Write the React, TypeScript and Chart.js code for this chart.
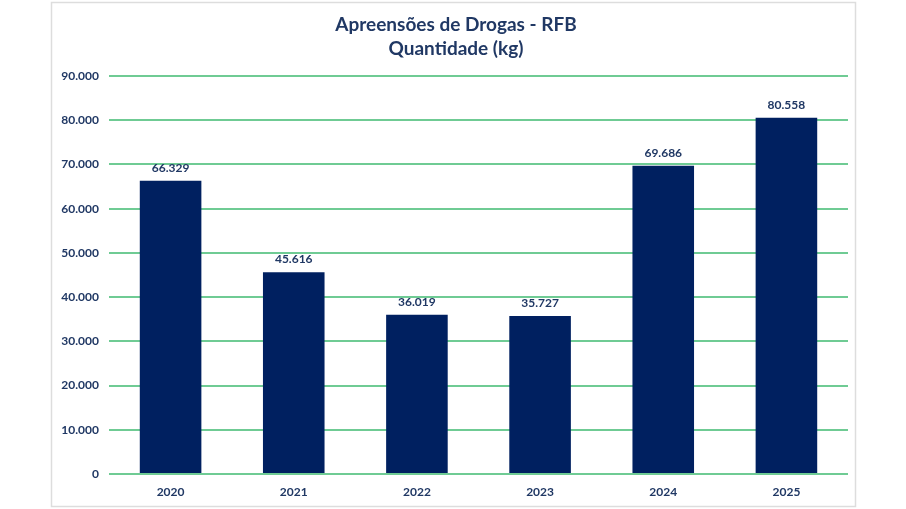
import React, { useEffect, useRef } from "react";
import { Chart, registerables } from "chart.js";

Chart.register(...registerables);

const categories = ["2020", "2021", "2022", "2023", "2024", "2025"];
const quantities = [66329, 45616, 36019, 35727, 69686, 80558];
const titleLines = ["Apreensões de Drogas - RFB", "Quantidade (kg)"];
const yMax = 90000;
const yStep = 10000;

const NAVY = "#002060";
const TEXT = "#203864";
const GRID = "#6FCB94";
const FONT = "Lato, 'Open Sans', sans-serif";

function fmt(v: number): string {
  const s = Math.round(v).toString();
  return s.replace(/\B(?=(\d{3})+(?!\d))/g, ".");
}

const framePlugin = {
  id: "frameAndTitle",
  beforeDraw(chart: any) {
    const ctx = chart.ctx;
    ctx.save();
    ctx.fillStyle = "#ffffff";
    ctx.fillRect(0, 0, chart.width, chart.height);
    ctx.strokeStyle = "#DDDDDD";
    ctx.lineWidth = 1.5;
    ctx.strokeRect(51.5, 2.5, 804, 504);
    ctx.restore();
  },
  afterDraw(chart: any) {
    const ctx = chart.ctx;
    ctx.save();
    ctx.fillStyle = TEXT;
    ctx.textAlign = "center";
    ctx.textBaseline = "middle";
    ctx.font = `bold 19px ${FONT}`;
    ctx.fillText(titleLines[0], 456, 25);
    ctx.fillText(titleLines[1], 456, 49);
    // data labels
    ctx.font = `bold 12px ${FONT}`;
    ctx.textBaseline = "alphabetic";
    const meta = chart.getDatasetMeta(0);
    meta.data.forEach((bar: any, i: number) => {
      ctx.fillText(fmt(quantities[i]), bar.x, bar.y - 9);
    });
    ctx.restore();
  },
};

export default function App() {
  const ref = useRef<HTMLCanvasElement>(null);
  useEffect(() => {
    if (!ref.current) return;
    const chart = new Chart(ref.current, {
      type: "bar",
      data: {
        labels: categories,
        datasets: [
          {
            data: quantities,
            backgroundColor: NAVY,
            borderWidth: 0,
            categoryPercentage: 1,
            barPercentage: 0.5,
          },
        ],
      },
      options: {
        animation: false,
        responsive: false,
        maintainAspectRatio: false,
        layout: { padding: { left: 59, right: 58, top: 76, bottom: 5 } },
        plugins: {
          legend: { display: false },
          title: { display: false },
          tooltip: { enabled: false },
        },
        scales: {
          x: {
            grid: { display: false, drawTicks: false },
            border: { display: false },
            ticks: {
              color: TEXT,
              font: { family: FONT, size: 12, weight: "bold" },
              padding: 11,
            },
            afterFit(scale: any) {
              scale.height = 30;
            },
          },
          y: {
            min: 0,
            max: yMax,
            grid: { color: GRID, lineWidth: 2, drawTicks: false },
            border: { display: false },
            ticks: {
              stepSize: yStep,
              color: TEXT,
              font: { family: FONT, size: 12, weight: "bold" },
              padding: 10,
              callback: (v: any) => fmt(Number(v)),
            },
            afterFit(scale: any) {
              scale.width = 50;
            },
          },
        },
      },
      plugins: [framePlugin],
    });
    return () => chart.destroy();
  }, []);
  return (
    <div style={{ position: "absolute", left: 0, top: 0, width: 906, height: 509 }}>
      <canvas ref={ref} width={906} height={509} style={{ width: 906, height: 509 }} />
    </div>
  );
}
